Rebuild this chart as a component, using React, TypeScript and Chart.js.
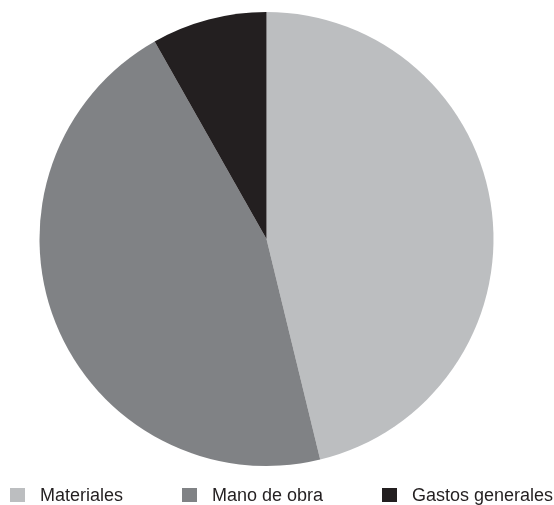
import React, { useEffect, useRef } from "react";
import { Chart, registerables } from "chart.js";

Chart.register(...registerables);

const categories = ["Materiales", "Mano de obra", "Gastos generales"];
const values = [46.2, 45.6, 8.2];
const colors = ["#bcbec0", "#808285", "#231f20"];

export default function App() {
  const canvasRef = useRef<HTMLCanvasElement | null>(null);

  useEffect(() => {
    const canvas = canvasRef.current;
    if (!canvas) return;
    const chart = new Chart(canvas, {
      type: "pie",
      data: {
        labels: categories,
        datasets: [
          {
            data: values,
            backgroundColor: colors,
            borderWidth: 0,
            hoverOffset: 0,
          },
        ],
      },
      options: {
        responsive: false,
        animation: false,
        layout: { padding: { top: 12, bottom: 39, left: 0, right: 21 } },
        plugins: {
          legend: { display: false },
          tooltip: { enabled: false },
        },
      },
    });
    return () => chart.destroy();
  }, []);

  return (
    <div style={{ position: "absolute", left: 0, top: 0, width: 554, height: 505, background: "#fff" }}>
      <canvas ref={canvasRef} width={554} height={505} style={{ display: "block", width: 554, height: 505 }} />
      <div
        style={{
          position: "absolute",
          top: 486,
          left: 10,
          width: 543,
          height: 18,
          display: "flex",
          justifyContent: "space-between",
          alignItems: "center",
          fontFamily: '"Liberation Sans", Arial, Helvetica, sans-serif',
          fontSize: 18,
          lineHeight: "18px",
          color: "#231f20",
        }}
      >
        {categories.map((c, i) => (
          <div key={c} style={{ display: "flex", alignItems: "center", whiteSpace: "nowrap" }}>
            <span style={{ display: "inline-block", width: 15, height: 14, background: colors[i], marginRight: 15 }} />
            <span>{c}</span>
          </div>
        ))}
      </div>
    </div>
  );
}
